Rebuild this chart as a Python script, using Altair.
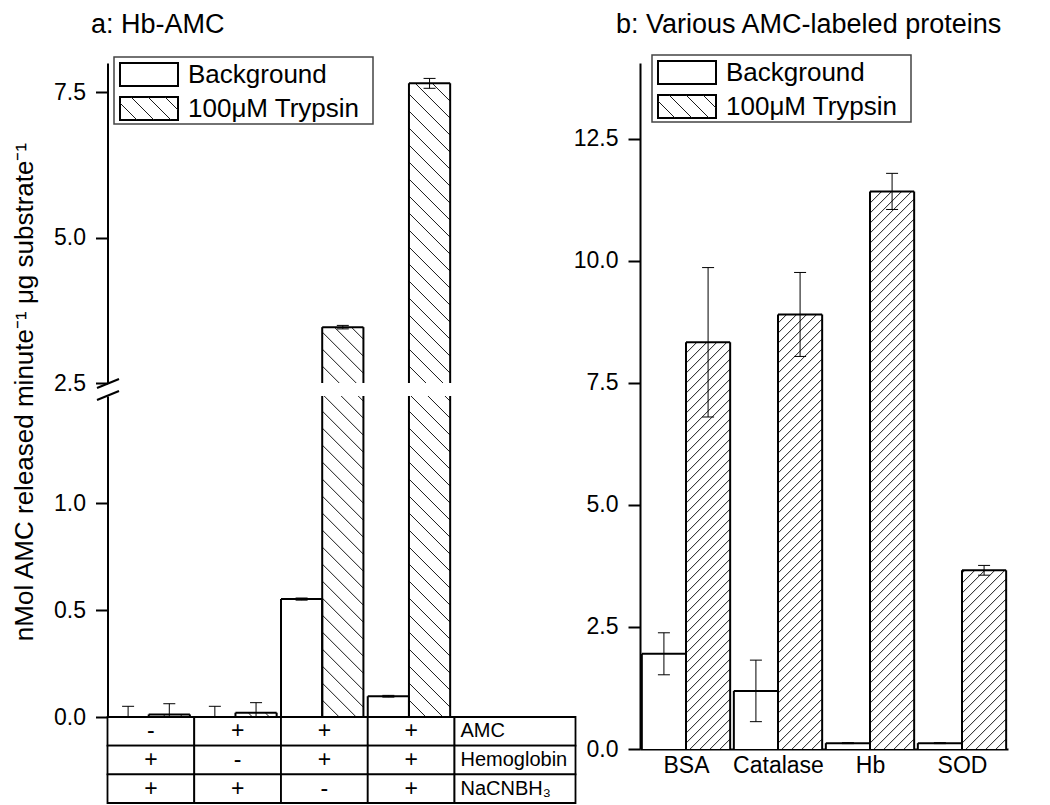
import json
import altair as alt
import pandas as pd

FONT = "Liberation Sans"

# ---------------- data ----------------
panel_a_title = "a: Hb-AMC"
panel_b_title = "b: Various AMC-labeled proteins"
y_title = "nMol AMC released minute⁻¹ μg substrate⁻¹"
series_names = ["Background", "100μM Trypsin"]

a_background = [0.0, 0.0, 0.551, 0.097]
a_background_err = [0.05, 0.05, 0.005, 0.004]
a_trypsin = [0.012, 0.02, 3.46, 7.65]
a_trypsin_err = [0.05, 0.047, 0.03, 0.085]
a_ticks_lower = [0.0, 0.5, 1.0]
a_ticks_upper = [2.5, 5.0, 7.5]
a_conditions = ["AMC", "Hemoglobin", "NaCNBH₃"]
a_table = [["-", "+", "+", "+"],
           ["+", "-", "+", "+"],
           ["+", "+", "-", "+"]]

b_proteins = ["BSA", "Catalase", "Hb", "SOD"]
b_background = [1.95, 1.19, 0.12, 0.12]
b_background_err = [0.43, 0.63, 0.01, 0.01]
b_trypsin = [8.33, 8.9, 11.42, 3.66]
b_trypsin_err = [1.53, 0.86, 0.37, 0.1]
b_ticks = [0.0, 2.5, 5.0, 7.5, 10.0, 12.5]

# ---------------- layout (pixels inside the plot area) ----------------
W, H = 1034, 797
A_X = (99.5, 446.5)          # panel a bar area
A_UP_Y = (375, 55)           # bottom, top of upper segment
A_LO_Y = (709, 388)          # bottom, top of lower segment
TAB_X = (99.5, 567.5)
TAB_Y = (709, 795)
B_X = (632, 1000)
B_Y = (741, 55)
A_UP_DOM, A_LO_DOM, B_DOM = (2.5, 8.0), (0.0, 1.5), (0.0, 14.05)
A_OFFS = (0.0, 0.475, 0.95)
B_OFFS = (0.02, 0.5, 0.98)
CAP_PX = 6
EDGE = 2


def one_row():
    return pd.DataFrame({"n": [0]})


def long_df(bg, bge, tr, tre):
    rows = []
    for i in range(len(bg)):
        rows.append({"g": i, "s": 0, "v": bg[i], "e": bge[i]})
        rows.append({"g": i, "s": 1, "v": tr[i], "e": tre[i]})
    return pd.DataFrame(rows)


def add_hatch(ch, kx, ky, sp, back):
    ch = ch.transform_calculate(hw=f"abs((datum.x1 - datum.x0) * {kx})")
    ch = ch.transform_calculate(hh=f"abs((datum.y1 - datum.y0) * {ky})")
    ch = ch.transform_calculate(ks=f"sequence(1, ceil((datum.hw + datum.hh) / {sp}) + 1)")
    ch = ch.transform_flatten(["ks"], as_=["k"])
    if back:
        ch = ch.transform_calculate(c=f"datum.k * {sp}")
        ch = ch.transform_calculate(ua="max(0, datum.c - datum.hh)")
        ch = ch.transform_calculate(ub="min(datum.hw, datum.c)")
        ch = ch.transform_calculate(va="datum.c - datum.ua")
        ch = ch.transform_calculate(vb="datum.c - datum.ub")
    else:
        ch = ch.transform_calculate(c=f"datum.k * {sp} - datum.hw")
        ch = ch.transform_calculate(ua="max(0, -datum.c)")
        ch = ch.transform_calculate(ub="min(datum.hw, datum.hh - datum.c)")
        ch = ch.transform_calculate(va="datum.ua + datum.c")
        ch = ch.transform_calculate(vb="datum.ub + datum.c")
    ch = ch.transform_filter("datum.ub > datum.ua + 0.5")
    ch = ch.transform_calculate(hx1=f"datum.x0 + datum.ua / {kx}")
    ch = ch.transform_calculate(hx2=f"datum.x0 + datum.ub / {kx}")
    ch = ch.transform_calculate(hy1=f"datum.y0 + datum.va / {ky}")
    ch = ch.transform_calculate(hy2=f"datum.y0 + datum.vb / {ky}")
    return ch


def bar_layers(df, dom, xr, yr, offs, sp, back, yaxis, xaxis):
    lo, hi = dom
    kx = (xr[1] - xr[0]) / 4.0
    ky = (yr[0] - yr[1]) / (hi - lo)
    L, M, R = offs
    xs = alt.Scale(domain=[0, 4], range=list(xr), nice=False, zero=False)
    ys = alt.Scale(domain=[lo, hi], range=list(yr), nice=False, zero=False)

    def X(f):
        return alt.X(f, scale=xs, axis=xaxis)

    def Y(f):
        return alt.Y(f, scale=ys, axis=yaxis)

    base = (alt.Chart(df)
            .transform_calculate(x0=f"datum.g + (datum.s == 0 ? {L} : {M})")
            .transform_calculate(x1=f"datum.g + (datum.s == 0 ? {M} : {R})")
            .transform_calculate(y0=f"{max(0.0, lo)}")
            .transform_calculate(y1=f"min(datum.v, {hi})"))
    vis = base.transform_filter(f"datum.v > {lo}")
    fill = vis.mark_rect(fill="white", strokeWidth=0).encode(
        x=X("x0:Q"), x2="x1:Q", y=Y("y0:Q"), y2="y1:Q")
    hb = add_hatch(vis.transform_filter("datum.s == 1"), kx, ky, sp, back)
    hatch = hb.mark_rule(color="#1a1a1a", strokeWidth=1).encode(
        x=X("hx1:Q"), x2="hx2:Q", y=Y("hy1:Q"), y2="hy2:Q")
    sides = vis.transform_fold(["x0", "x1"], as_=["side", "ex"]).mark_rule(
        color="black", strokeWidth=EDGE).encode(
        x=X("ex:Q"), y=Y("y0:Q"), y2="y1:Q")
    tops = vis.transform_filter(f"datum.v <= {hi}").mark_rule(
        color="black", strokeWidth=EDGE).encode(
        x=X("x0:Q"), x2="x1:Q", y=Y("v:Q"))
    eb = (base.transform_calculate(xc="(datum.x0 + datum.x1) / 2")
          .transform_calculate(elo="max(datum.v - datum.e, 0)")
          .transform_calculate(ehi="datum.v + datum.e"))
    stems = (eb.transform_filter(f"datum.ehi > {lo} && datum.elo < {hi}")
             .transform_calculate(slo=f"max(datum.elo, {lo})")
             .transform_calculate(shi=f"min(datum.ehi, {hi})")
             .mark_rule(color="black", strokeWidth=1).encode(
                 x=X("xc:Q"), y=Y("slo:Q"), y2="shi:Q"))
    caps = (eb.transform_fold(["elo", "ehi"], as_=["end", "cy"])
            .transform_filter(f"datum.cy >= {lo} && datum.cy <= {hi}")
            .transform_calculate(cx1=f"datum.xc - {CAP_PX / kx}")
            .transform_calculate(cx2=f"datum.xc + {CAP_PX / kx}")
            .mark_rule(color="black", strokeWidth=1).encode(
                x=X("cx1:Q"), x2="cx2:Q", y=Y("cy:Q")))
    return [fill, hatch, sides, tops, stems, caps]


def legend_layers(bx, by):
    box = alt.Chart(one_row()).mark_rect(fill="white", stroke="#444", strokeWidth=1.5).encode(
        x=alt.value(bx), x2=alt.value(bx + 259), y=alt.value(by), y2=alt.value(by + 67))
    leg = pd.DataFrame({"i": [0, 1], "label": series_names})
    lb = (alt.Chart(leg)
          .transform_calculate(x0=f"{bx + 6}")
          .transform_calculate(x1=f"{bx + 64}")
          .transform_calculate(y1=f"{by + 6} + datum.i * 34")
          .transform_calculate(y0="datum.y1 + 23")
          .transform_calculate(tx=f"{bx + 74}")
          .transform_calculate(ty="datum.y1 + 11.5"))
    sw = lb.mark_rect(fill="white", stroke="black", strokeWidth=2).encode(
        x=alt.X("x0:Q", scale=None), x2="x1:Q",
        y=alt.Y("y1:Q", scale=None), y2="y0:Q")
    lh = add_hatch(lb.transform_filter("datum.i == 1"), 1, -1, 17, True)
    lines = lh.mark_rule(color="#1a1a1a", strokeWidth=1).encode(
        x=alt.X("hx1:Q", scale=None), x2="hx2:Q",
        y=alt.Y("hy1:Q", scale=None), y2="hy2:Q")
    txt = lb.mark_text(align="left", baseline="middle", font=FONT, fontSize=26,
                       color="black").encode(
        x=alt.X("tx:Q", scale=None),
        y=alt.Y("ty:Q", scale=None),
        text="label:N")
    return [box, sw, lines, txt]


def slash(xa, ya, xb, yb):
    return alt.Chart(one_row()).mark_rule(color="black", strokeWidth=2).encode(
        x=alt.value(xa), x2=alt.value(xb), y=alt.value(ya), y2=alt.value(yb))


def heading(text, x, y):
    return alt.Chart(one_row()).mark_text(
        text=text, align="left", baseline="alphabetic", font=FONT, fontSize=27,
        color="black").encode(x=alt.value(x), y=alt.value(y))


a_df = long_df(a_background, a_background_err, a_trypsin, a_trypsin_err)
b_df = long_df(b_background, b_background_err, b_trypsin, b_trypsin_err)

# ---------------- panel a ----------------
yax_up = alt.Axis(values=a_ticks_upper, format=".1f", title=None, orient="left",
                  offset=-A_X[0])
a_upper = alt.layer(
    *bar_layers(a_df, A_UP_DOM, A_X, A_UP_Y, A_OFFS, 17, True, yax_up, None),
    *legend_layers(106, 49),
    slash(89, 380, 111, 371),
    heading(panel_a_title, 83, 25),
)

yax_lo = alt.Axis(values=a_ticks_lower, format=".1f", title=y_title, orient="left",
                  offset=-A_X[0], titleX=-75.5, titleY=383.5, titleAngle=270,
                  titleBaseline="alphabetic", titleAlign="center")
a_lower = alt.layer(
    *bar_layers(a_df, A_LO_DOM, A_X, A_LO_Y, A_OFFS, 17, True, yax_lo, None),
    slash(89, 392, 111, 383),
)

cells = []
for r in range(len(a_conditions)):
    for c in range(len(a_table[r])):
        cells.append({"r": r, "c": c, "t": a_table[r][c]})
    cells.append({"r": r, "c": len(a_table[r]), "t": a_conditions[r]})
tab_df = pd.DataFrame(cells)
TAB_XMAX = (TAB_X[1] - TAB_X[0]) / ((A_X[1] - A_X[0]) / 4.0)
txs = alt.Scale(domain=[0, TAB_XMAX], range=list(TAB_X), nice=False, zero=False)
tys = alt.Scale(domain=[0, 3], range=list(TAB_Y), nice=False, zero=False)
tb = (alt.Chart(tab_df)
      .transform_calculate(cx1="datum.c")
      .transform_calculate(cx2=f"datum.c < 4 ? datum.c + 1 : {TAB_XMAX}")
      .transform_calculate(ry1="datum.r")
      .transform_calculate(ry2="datum.r + 1")
      .transform_calculate(tx="datum.c + 0.5")
      .transform_calculate(ty="datum.r + 0.5"))
grid = tb.mark_rect(fill="white", stroke="black", strokeWidth=1.8).encode(
    x=alt.X("cx1:Q", scale=txs, axis=None), x2="cx2:Q",
    y=alt.Y("ry1:Q", scale=tys, axis=None), y2="ry2:Q")
signs = tb.transform_filter("datum.c < 4").mark_text(
    font=FONT, fontSize=23, color="black", baseline="middle").encode(
    x=alt.X("tx:Q", scale=txs, axis=None), y=alt.Y("ty:Q", scale=tys, axis=None), text="t:N")
labels = tb.transform_filter("datum.c == 4").mark_text(
    font=FONT, fontSize=20, color="black", baseline="middle", align="left", dx=6).encode(
    x=alt.X("cx1:Q", scale=txs, axis=None), y=alt.Y("ty:Q", scale=tys, axis=None), text="t:N")
a_table_layer = alt.layer(grid, signs, labels)

# ---------------- panel b ----------------
yax_b = alt.Axis(values=b_ticks, format=".1f", title=None, orient="left", offset=-B_X[0])
xax_b = alt.Axis(values=[i + 0.5 for i in range(len(b_proteins))],
                 labelExpr=f"{json.dumps(b_proteins)}[floor(datum.value)]",
                 ticks=False, title=None, labelPadding=5,
                 orient="bottom", offset=-(H - B_Y[0]))
b_layer = alt.layer(
    *bar_layers(b_df, B_DOM, B_X, B_Y, B_OFFS, 10, False, yax_b, xax_b),
    *legend_layers(644, 47),
    heading(panel_b_title, 608, 25),
)

chart = alt.layer(a_upper, a_lower, a_table_layer, b_layer).resolve_scale(
    x="independent", y="independent"
).properties(
    width=W, height=H, autosize=alt.AutoSizeParams(type="none"), padding=0
).configure_view(stroke=None).configure_axis(
    labelFont=FONT, labelFontSize=23, labelColor="black", labelPadding=10,
    domainColor="black", domainWidth=2, tickColor="black", tickWidth=2, tickSize=12,
    titleFont=FONT, titleFontSize=26, titleFontWeight="normal", titleColor="black",
    grid=False, zindex=1,
)

chart.save("out.html", embed_options={"renderer": "svg", "actions": False})
